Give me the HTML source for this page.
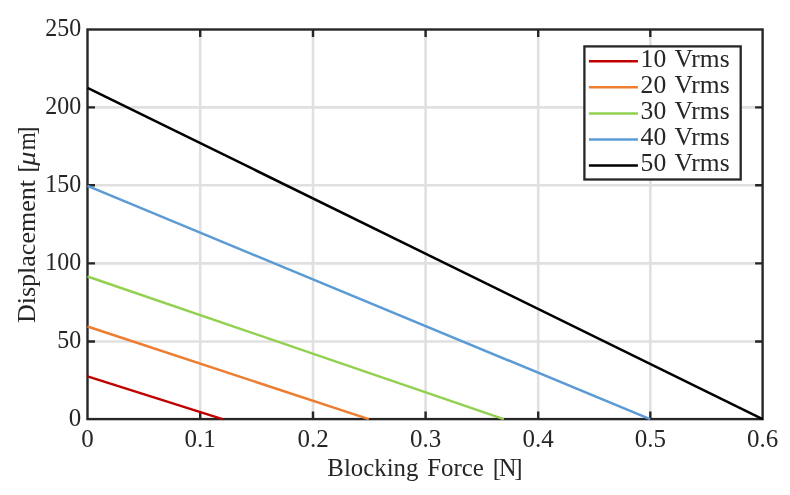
<!DOCTYPE html>
<html><head><meta charset="utf-8"><style>
html,body{margin:0;padding:0;background:#fff;width:790px;height:495px;overflow:hidden}
svg{display:block;will-change:transform}
</style></head><body>
<svg width="790" height="495" viewBox="0 0 790 495">
<line x1="200.20" y1="29.50" x2="200.20" y2="419.10" stroke="#e0e0e0" stroke-width="2.6"/>
<line x1="313.00" y1="29.50" x2="313.00" y2="419.10" stroke="#e0e0e0" stroke-width="2.6"/>
<line x1="425.60" y1="29.50" x2="425.60" y2="419.10" stroke="#e0e0e0" stroke-width="2.6"/>
<line x1="538.20" y1="29.50" x2="538.20" y2="419.10" stroke="#e0e0e0" stroke-width="2.6"/>
<line x1="650.30" y1="29.50" x2="650.30" y2="419.10" stroke="#e0e0e0" stroke-width="2.6"/>
<line x1="87.50" y1="341.50" x2="762.60" y2="341.50" stroke="#e0e0e0" stroke-width="2.6"/>
<line x1="87.50" y1="263.40" x2="762.60" y2="263.40" stroke="#e0e0e0" stroke-width="2.6"/>
<line x1="87.50" y1="185.30" x2="762.60" y2="185.30" stroke="#e0e0e0" stroke-width="2.6"/>
<line x1="87.50" y1="107.40" x2="762.60" y2="107.40" stroke="#e0e0e0" stroke-width="2.6"/>
<path d="M200.20 419.10V411.60M200.20 29.50V37.00M313.00 419.10V411.60M313.00 29.50V37.00M425.60 419.10V411.60M425.60 29.50V37.00M538.20 419.10V411.60M538.20 29.50V37.00M650.30 419.10V411.60M650.30 29.50V37.00M87.50 341.50H95.00M762.60 341.50H755.10M87.50 263.40H95.00M762.60 263.40H755.10M87.50 185.30H95.00M762.60 185.30H755.10M87.50 107.40H95.00M762.60 107.40H755.10" stroke="#262626" stroke-width="2.4" fill="none"/>
<rect x="87.50" y="29.50" width="675.10" height="389.60" stroke="#262626" stroke-width="2.4" fill="none"/>
<line x1="87.50" y1="376.40" x2="222.52" y2="419.10" stroke="#c00000" stroke-width="2.5"/>
<line x1="87.50" y1="326.53" x2="368.79" y2="419.10" stroke="#ed7d31" stroke-width="2.5"/>
<line x1="87.50" y1="276.51" x2="503.81" y2="419.10" stroke="#92d050" stroke-width="2.5"/>
<line x1="87.50" y1="185.96" x2="650.08" y2="419.10" stroke="#5b9bd5" stroke-width="2.5"/>
<line x1="87.50" y1="87.78" x2="762.60" y2="419.10" stroke="#000000" stroke-width="2.5"/>
<text x="87.50" y="447" text-anchor="middle" font-family="Liberation Serif" font-size="25" fill="#262626">0</text>
<text x="200.20" y="447" text-anchor="middle" font-family="Liberation Serif" font-size="25" fill="#262626">0.1</text>
<text x="313.00" y="447" text-anchor="middle" font-family="Liberation Serif" font-size="25" fill="#262626">0.2</text>
<text x="425.60" y="447" text-anchor="middle" font-family="Liberation Serif" font-size="25" fill="#262626">0.3</text>
<text x="538.20" y="447" text-anchor="middle" font-family="Liberation Serif" font-size="25" fill="#262626">0.4</text>
<text x="650.30" y="447" text-anchor="middle" font-family="Liberation Serif" font-size="25" fill="#262626">0.5</text>
<text x="762.60" y="447" text-anchor="middle" font-family="Liberation Serif" font-size="25" fill="#262626">0.6</text>
<text x="81.2" y="426" text-anchor="end" font-family="Liberation Serif" font-size="25" fill="#262626">0</text>
<text x="81.2" y="348" text-anchor="end" textLength="23.95" lengthAdjust="spacingAndGlyphs" font-family="Liberation Serif" font-size="25" fill="#262626">50</text>
<text x="81.2" y="270" text-anchor="end" textLength="35.92" lengthAdjust="spacingAndGlyphs" font-family="Liberation Serif" font-size="25" fill="#262626">100</text>
<text x="81.2" y="192" text-anchor="end" textLength="35.92" lengthAdjust="spacingAndGlyphs" font-family="Liberation Serif" font-size="25" fill="#262626">150</text>
<text x="81.2" y="114" text-anchor="end" textLength="35.92" lengthAdjust="spacingAndGlyphs" font-family="Liberation Serif" font-size="25" fill="#262626">200</text>
<text x="81.2" y="36" text-anchor="end" textLength="35.92" lengthAdjust="spacingAndGlyphs" font-family="Liberation Serif" font-size="25" fill="#262626">250</text>
<text x="327.35" y="476" textLength="91.05" lengthAdjust="spacingAndGlyphs" font-family="Liberation Serif" font-size="25" fill="#262626">Blocking</text>
<text x="427.25" y="476" textLength="56.66" lengthAdjust="spacingAndGlyphs" font-family="Liberation Serif" font-size="25" fill="#262626">Force</text>
<text x="492.85" y="476" font-family="Liberation Serif" font-size="25" fill="#262626">[</text>
<text x="499.07" y="476" textLength="17.46" lengthAdjust="spacingAndGlyphs" font-family="Liberation Serif" font-size="25" fill="#262626">N</text>
<text x="514.30" y="476" font-family="Liberation Serif" font-size="25" fill="#262626">]</text>
<text transform="translate(34.6 323.08) rotate(-90)" x="0" y="0" textLength="143.10" lengthAdjust="spacingAndGlyphs" font-family="Liberation Serif" font-size="25" fill="#262626">Displacement</text>
<text transform="translate(34.6 172.55) rotate(-90)" x="0" y="0" font-family="Liberation Serif" font-size="25" fill="#262626">[</text>
<text transform="translate(34.6 165.70) rotate(-90)" x="0" y="0" textLength="14.21" lengthAdjust="spacingAndGlyphs" font-family="Liberation Serif" font-size="25" fill="#262626" font-style="italic">μ</text>
<text transform="translate(34.6 150.36) rotate(-90)" x="0" y="0" textLength="18.08" lengthAdjust="spacingAndGlyphs" font-family="Liberation Serif" font-size="25" fill="#262626">m</text>
<text transform="translate(34.6 134.70) rotate(-90)" x="0" y="0" font-family="Liberation Serif" font-size="25" fill="#262626">]</text>
<rect x="584.4" y="46.4" width="156.30" height="133.10" fill="#fff" stroke="#262626" stroke-width="2.3"/>
<line x1="588.9" y1="61.20" x2="637.9" y2="61.20" stroke="#c00000" stroke-width="2.5"/>
<text x="640.6" y="67" textLength="25.6" lengthAdjust="spacingAndGlyphs" font-family="Liberation Serif" font-size="25" fill="#262626">10</text>
<text x="674.45" y="67" textLength="55.13" lengthAdjust="spacingAndGlyphs" font-family="Liberation Serif" font-size="25" fill="#262626">Vrms</text>
<line x1="588.9" y1="87.30" x2="637.9" y2="87.30" stroke="#ed7d31" stroke-width="2.5"/>
<text x="640.6" y="93" textLength="25.6" lengthAdjust="spacingAndGlyphs" font-family="Liberation Serif" font-size="25" fill="#262626">20</text>
<text x="674.45" y="93" textLength="55.13" lengthAdjust="spacingAndGlyphs" font-family="Liberation Serif" font-size="25" fill="#262626">Vrms</text>
<line x1="588.9" y1="113.40" x2="637.9" y2="113.40" stroke="#92d050" stroke-width="2.5"/>
<text x="640.6" y="119" textLength="25.6" lengthAdjust="spacingAndGlyphs" font-family="Liberation Serif" font-size="25" fill="#262626">30</text>
<text x="674.45" y="119" textLength="55.13" lengthAdjust="spacingAndGlyphs" font-family="Liberation Serif" font-size="25" fill="#262626">Vrms</text>
<line x1="588.9" y1="139.50" x2="637.9" y2="139.50" stroke="#5b9bd5" stroke-width="2.5"/>
<text x="640.6" y="145" textLength="25.6" lengthAdjust="spacingAndGlyphs" font-family="Liberation Serif" font-size="25" fill="#262626">40</text>
<text x="674.45" y="145" textLength="55.13" lengthAdjust="spacingAndGlyphs" font-family="Liberation Serif" font-size="25" fill="#262626">Vrms</text>
<line x1="588.9" y1="165.60" x2="637.9" y2="165.60" stroke="#000000" stroke-width="2.5"/>
<text x="640.6" y="171" textLength="25.6" lengthAdjust="spacingAndGlyphs" font-family="Liberation Serif" font-size="25" fill="#262626">50</text>
<text x="674.45" y="171" textLength="55.13" lengthAdjust="spacingAndGlyphs" font-family="Liberation Serif" font-size="25" fill="#262626">Vrms</text>
</svg>
</body></html>
